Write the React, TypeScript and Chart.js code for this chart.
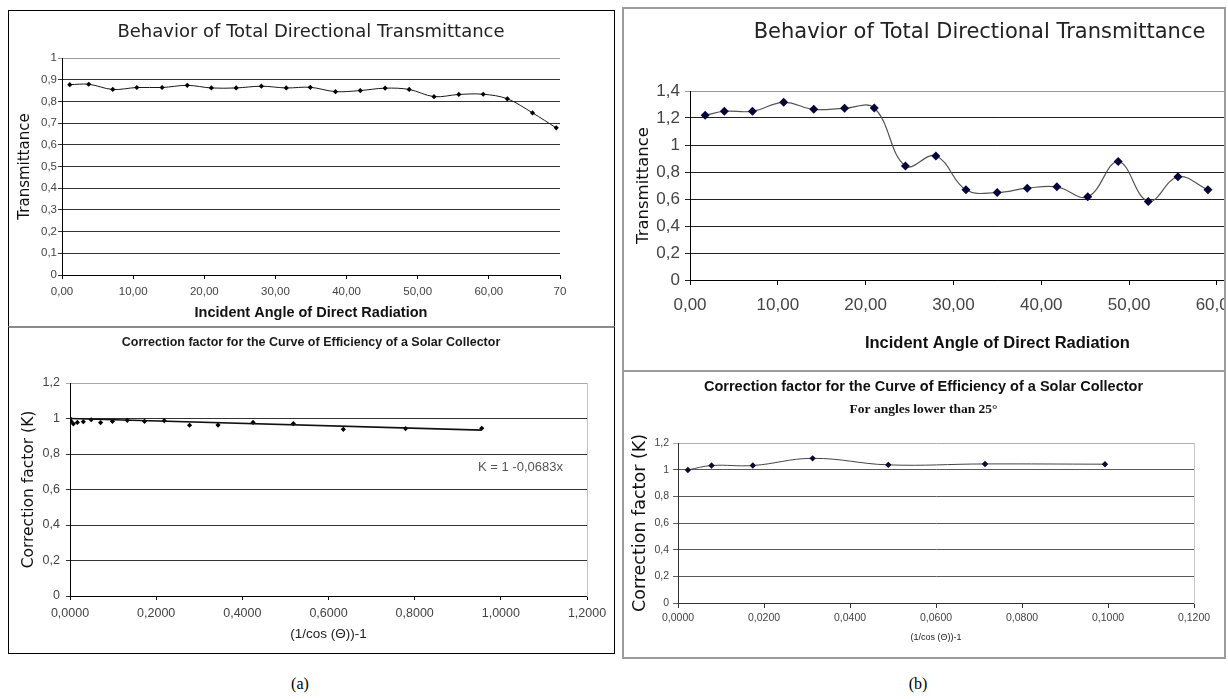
import React, { useEffect, useRef } from 'react';
import { Chart, registerables } from 'chart.js';

Chart.register(...registerables);

// ---------- Data ----------
// (a) top: Behavior of Total Directional Transmittance
const anglesA = [1.09, 3.76, 7.14, 10.52, 14.07, 17.61, 20.99, 24.48, 28.03, 31.52, 34.9, 38.44, 41.93, 45.42, 48.8, 52.29, 55.78, 59.21, 62.6, 66.14, 69.47];
const transmittanceA = [0.877, 0.879, 0.855, 0.864, 0.864, 0.874, 0.862, 0.862, 0.87, 0.862, 0.865, 0.845, 0.85, 0.861, 0.855, 0.822, 0.832, 0.833, 0.812, 0.747, 0.678];

// (a) bottom: Correction factor
const cosTermA = [0.0002, 0.0022, 0.0078, 0.0171, 0.0309, 0.0492, 0.071, 0.0985, 0.1329, 0.1729, 0.2187, 0.2775, 0.3436, 0.4249, 0.5184, 0.6344, 0.7788, 0.9557];
const factorA = [1.0, 0.985, 0.97, 0.978, 0.982, 0.993, 0.977, 0.984, 0.99, 0.984, 0.988, 0.962, 0.963, 0.978, 0.971, 0.939, 0.943, 0.945];
const trendXA = [0, 0.9557];
const trendKA = [1, 0.9347];
const trendText = 'K = 1 -0,0683x';
const trendLabelAt = [0.947, 0.727];

// (b) top: Behavior of Total Directional Transmittance
const anglesB = [1.73, 3.91, 7.11, 10.67, 14.09, 17.6, 20.98, 24.53, 28.0, 31.42, 34.98, 38.4, 41.78, 45.29, 48.76, 52.18, 55.56, 58.98];
const transmittanceB = [1.22, 1.25, 1.25, 1.316, 1.264, 1.272, 1.274, 0.845, 0.919, 0.668, 0.648, 0.68, 0.69, 0.616, 0.877, 0.582, 0.764, 0.668];

// (b) bottom: Correction factor for angles lower than 25°
const cosTermB = [0.0023, 0.0078, 0.0174, 0.0313, 0.0489, 0.0714, 0.0993];
const factorB = [0.998, 1.031, 1.031, 1.085, 1.036, 1.043, 1.041];

const titleTransmittance = 'Behavior of Total Directional Transmittance';
const titleCorrection = 'Correction factor for the Curve of Efficiency of a Solar Collector';
const subtitleCorrectionB = 'For angles lower than 25°';
const xTitleAngle = 'Incident Angle of Direct Radiation';
const xTitleCos = '(1/cos (Θ))-1';
const yTitleTrans = 'Transmittance';
const yTitleK = 'Correction factor (K)';

// ---------- Fonts ----------
const DEJAVU = "'DejaVu Sans', Verdana, sans-serif";
const ARIAL = "'Liberation Sans', Arial, sans-serif";
const NARROW = "'Liberation Sans Narrow', 'Arial Narrow', 'Liberation Sans', sans-serif";
const SERIF = "'Liberation Serif', 'Times New Roman', serif";

const yFmt = (v: number) => {
  const r = Math.round(v * 1000) / 1000;
  return Number.isInteger(r) ? String(r) : r.toFixed(1).replace('.', ',');
};
const xFmt = (d: number) => (v: number) => (Math.round(v * 1e6) / 1e6).toFixed(d).replace('.', ',');

const pts = (xs: number[], ys: number[]) => xs.map((x, i) => ({ x, y: ys[i] }));

const gridColor = (max: number, normal: string, top: string) => (ctx: any) =>
  ctx.tick && Math.abs(ctx.tick.value - max) < 1e-9 ? top : normal;

const rightSpacer = (w: number, border: string | null) => ({
  type: 'linear',
  axis: 'y',
  position: 'right',
  display: true,
  grid: { display: false, drawOnChartArea: false, drawTicks: false },
  border: border ? { display: true, color: border, width: 1 } : { display: false },
  ticks: { display: false },
  afterFit: (s: any) => { s.width = w; },
});

const baseOptions = {
  animation: false,
  responsive: false,
  maintainAspectRatio: false,
  events: [],
  layout: { padding: 0 },
};

// ---------- Configs ----------
const configA1 = () => ({
  type: 'line',
  data: {
    datasets: [{
      data: pts(anglesA, transmittanceA),
      yAxisID: 'y',
      borderColor: '#1a1a1a',
      borderWidth: 1,
      tension: 0.35,
      pointStyle: 'rectRot',
      pointRadius: 2.6,
      pointBackgroundColor: '#000',
      pointBorderColor: '#000',
      pointBorderWidth: 0,
    }],
  },
  options: {
    ...baseOptions,
    plugins: {
      legend: { display: false },
      tooltip: { enabled: false },
      title: {
        display: true, text: titleTransmittance, color: '#222',
        font: { family: DEJAVU, size: 18, weight: 'normal' },
        padding: { top: 11.2, bottom: 15.2 },
      },
    },
    scales: {
      x: {
        type: 'linear', min: 0, max: 70,
        ticks: { stepSize: 10, callback: (v: number) => (v >= 70 ? '70' : xFmt(2)(v)), font: { family: ARIAL, size: 11.5 }, color: '#444', padding: 6, maxRotation: 0 },
        grid: { drawOnChartArea: false, drawTicks: true, tickLength: 4, color: '#000' },
        border: { color: '#000', width: 1 },
        title: { display: true, text: xTitleAngle, color: '#111', font: { family: ARIAL, size: 14.5, weight: 'bold' }, padding: { top: 0, bottom: 5.3 } },
        afterFit: (s: any) => { s.height = 52; },
      },
      y: {
        type: 'linear', min: 0, max: 1,
        ticks: { stepSize: 0.1, callback: yFmt, font: { family: ARIAL, size: 11.5 }, color: '#444', padding: 1 },
        grid: { color: gridColor(1, '#333', '#9a9a9a'), tickLength: 4, lineWidth: 1 },
        border: { color: '#000', width: 1 },
        title: { display: true, text: yTitleTrans, color: '#111', font: { family: DEJAVU, size: 15 }, padding: { top: 8, bottom: 0 } },
        afterFit: (s: any) => { s.width = 54; },
      },
      y2: rightSpacer(54, null),
    },
  },
});

const trendLabelPlugin = {
  id: 'trendLabel',
  afterDatasetsDraw(chart: any) {
    const { ctx, scales } = chart;
    ctx.save();
    ctx.font = `13px ${ARIAL}`;
    ctx.fillStyle = '#555';
    ctx.textAlign = 'left';
    ctx.textBaseline = 'middle';
    ctx.fillText(trendText, scales.x.getPixelForValue(trendLabelAt[0]), scales.y.getPixelForValue(trendLabelAt[1]));
    ctx.restore();
  },
};

const configA2 = () => ({
  type: 'line',
  data: {
    datasets: [
      {
        data: pts(trendXA, trendKA),
        yAxisID: 'y',
        borderColor: '#111',
        borderWidth: 1.6,
        tension: 0,
        pointRadius: 0,
      },
      {
        data: pts(cosTermA, factorA),
        yAxisID: 'y',
        showLine: false,
        pointStyle: 'rectRot',
        pointRadius: 2.6,
        pointBackgroundColor: '#000',
        pointBorderColor: '#000',
        pointBorderWidth: 0,
      },
    ],
  },
  plugins: [trendLabelPlugin],
  options: {
    ...baseOptions,
    plugins: {
      legend: { display: false },
      tooltip: { enabled: false },
      title: {
        display: true, text: titleCorrection, color: '#1a1a1a',
        font: { family: ARIAL, size: 12.5, weight: 'bold' },
        padding: { top: 9.5, bottom: 32.5 },
      },
    },
    scales: {
      x: {
        type: 'linear', min: 0, max: 1.2,
        ticks: { stepSize: 0.2, callback: xFmt(4), font: { family: ARIAL, size: 12.5 }, color: '#444', padding: 6, maxRotation: 0 },
        grid: { drawOnChartArea: false, drawTicks: true, tickLength: 4, color: '#000' },
        border: { color: '#000', width: 1 },
        title: { display: true, text: xTitleCos, color: '#222', font: { family: ARIAL, size: 13.5 }, padding: { top: 0, bottom: 11.9 } },
        afterFit: (s: any) => { s.height = 58; },
      },
      y: {
        type: 'linear', min: 0, max: 1.2,
        ticks: { stepSize: 0.2, callback: yFmt, font: { family: ARIAL, size: 12.5 }, color: '#444', padding: 6 },
        grid: { color: gridColor(1.2, '#333', '#a8a8a8'), tickLength: 4 },
        border: { color: '#000', width: 1 },
        title: { display: true, text: yTitleK, color: '#111', font: { family: DEJAVU, size: 15.5 }, padding: { top: 11.7, bottom: 0 } },
        afterFit: (s: any) => { s.width = 62; },
      },
      y2: rightSpacer(27, '#c4c4c4'),
    },
  },
});

const configB1 = () => ({
  type: 'line',
  data: {
    datasets: [{
      data: pts(anglesB, transmittanceB),
      yAxisID: 'y',
      borderColor: '#555',
      borderWidth: 1.2,
      tension: 0.4,
      pointStyle: 'rectRot',
      pointRadius: 4.5,
      pointBackgroundColor: '#05053a',
      pointBorderColor: '#05053a',
      pointBorderWidth: 0,
    }],
  },
  options: {
    ...baseOptions,
    plugins: {
      legend: { display: false },
      tooltip: { enabled: false },
      title: {
        display: true, text: titleTransmittance, color: '#222',
        font: { family: DEJAVU, size: 21, weight: 'normal' },
        padding: { top: 12.4, bottom: 45.4 },
      },
    },
    scales: {
      x: {
        type: 'linear', min: 0, max: 70,
        ticks: { stepSize: 10, callback: xFmt(2), font: { family: NARROW, size: 17 }, color: '#444', padding: 10, maxRotation: 0 },
        grid: { drawOnChartArea: false, drawTicks: true, tickLength: 5, color: '#000' },
        border: { color: '#000', width: 1 },
        title: { display: true, text: xTitleAngle, color: '#111', font: { family: ARIAL, size: 16.5, weight: 'bold' }, padding: { top: 0, bottom: 17.1 } },
        afterFit: (s: any) => { s.height = 90; },
      },
      y: {
        type: 'linear', min: 0, max: 1.4,
        ticks: { stepSize: 0.2, callback: yFmt, font: { family: NARROW, size: 17 }, color: '#444', padding: 5 },
        grid: { color: gridColor(1.4, '#222', '#999'), tickLength: 5 },
        border: { color: '#000', width: 1 },
        title: { display: true, text: yTitleTrans, color: '#111', font: { family: DEJAVU, size: 16.5 }, padding: { top: 11.1, bottom: 0 } },
        afterFit: (s: any) => { s.width = 67; },
      },
      y2: rightSpacer(30, null),
    },
  },
});

const configB2 = () => ({
  type: 'line',
  data: {
    datasets: [{
      data: pts(cosTermB, factorB),
      yAxisID: 'y',
      borderColor: '#444',
      borderWidth: 1,
      tension: 0.4,
      pointStyle: 'rectRot',
      pointRadius: 3.2,
      pointBackgroundColor: '#0a0a30',
      pointBorderColor: '#0a0a30',
      pointBorderWidth: 0,
    }],
  },
  options: {
    ...baseOptions,
    plugins: {
      legend: { display: false },
      tooltip: { enabled: false },
      title: {
        display: true, text: titleCorrection, color: '#111',
        font: { family: ARIAL, size: 14.5, weight: 'bold' },
        padding: { top: 6.3, bottom: 0 },
      },
      subtitle: {
        display: true, text: subtitleCorrectionB, color: '#111',
        font: { family: SERIF, size: 13.5, weight: 'bold' },
        padding: { top: 6.2, bottom: 24.9 },
      },
    },
    scales: {
      x: {
        type: 'linear', min: 0, max: 0.12,
        ticks: { stepSize: 0.02, callback: xFmt(4), font: { family: ARIAL, size: 10.5 }, color: '#444', padding: 3.7, maxRotation: 0 },
        grid: { drawOnChartArea: false, drawTicks: true, tickLength: 5, color: '#333' },
        border: { color: '#333', width: 1 },
        title: { display: true, text: xTitleCos, color: '#222', font: { family: ARIAL, size: 9 }, padding: { top: 0, bottom: 13.6 } },
        afterFit: (s: any) => { s.height = 54; },
      },
      y: {
        type: 'linear', min: 0, max: 1.2,
        ticks: { stepSize: 0.2, callback: yFmt, font: { family: ARIAL, size: 10.5 }, color: '#444', padding: 4 },
        grid: { color: gridColor(1.2, '#5a5a5a', '#b0b0b0'), tickLength: 5 },
        border: { color: '#333', width: 1 },
        title: { display: true, text: yTitleK, color: '#111', font: { family: DEJAVU, size: 17.5 }, padding: { top: 6.5, bottom: 0 } },
        afterFit: (s: any) => { s.width = 55; },
      },
      y2: rightSpacer(30, '#c8c8c8'),
    },
  },
});

// ---------- Components ----------
function ChartCanvas(props: { make: () => any; left: number; top: number; width: number; height: number; canvasWidth?: number }) {
  const ref = useRef<HTMLCanvasElement>(null);
  const cw = props.canvasWidth ?? props.width;
  useEffect(() => {
    const chart = new Chart(ref.current as HTMLCanvasElement, props.make());
    return () => chart.destroy();
  }, []);
  return (
    <div style={{ position: 'absolute', left: props.left, top: props.top, width: props.width, height: props.height, overflow: 'hidden' }}>
      <canvas ref={ref} width={cw} height={props.height} style={{ display: 'block', width: cw, height: props.height }} />
    </div>
  );
}

function Box(props: { left: number; top: number; width: number; height: number; border: string; borderTop?: string }) {
  return (
    <div
      style={{
        position: 'absolute', left: props.left, top: props.top, width: props.width, height: props.height,
        boxSizing: 'border-box', border: props.border, borderTop: props.borderTop ?? props.border, pointerEvents: 'none',
      }}
    />
  );
}

export default function App() {
  return (
    <div style={{ position: 'absolute', left: 0, top: 0, width: 1228, height: 699, background: '#fff', overflow: 'hidden' }}>
      <ChartCanvas make={configA1} left={8} top={10} width={606} height={317} />
      <ChartCanvas make={configA2} left={8} top={326} width={606} height={328} />
      <ChartCanvas make={configB1} left={623} top={8} width={601} height={362} canvasWidth={713} />
      <ChartCanvas make={configB2} left={623} top={372} width={601} height={285} />

      <Box left={8} top={10} width={607} height={317} border="1px solid #000" />
      <Box left={8} top={326} width={607} height={328} border="1px solid #000" borderTop="2px solid #8a8a8a" />
      <Box left={622} top={7} width={604} height={365} border="2px solid #9c9c9c" />
      <Box left={622} top={370} width={604} height={289} border="2px solid #9c9c9c" />

      <div style={{ position: 'absolute', left: 270, top: 675, width: 60, textAlign: 'center', fontFamily: SERIF, fontSize: 16, color: '#000' }}>(a)</div>
      <div style={{ position: 'absolute', left: 888, top: 675, width: 60, textAlign: 'center', fontFamily: SERIF, fontSize: 16, color: '#000' }}>(b)</div>
    </div>
  );
}
